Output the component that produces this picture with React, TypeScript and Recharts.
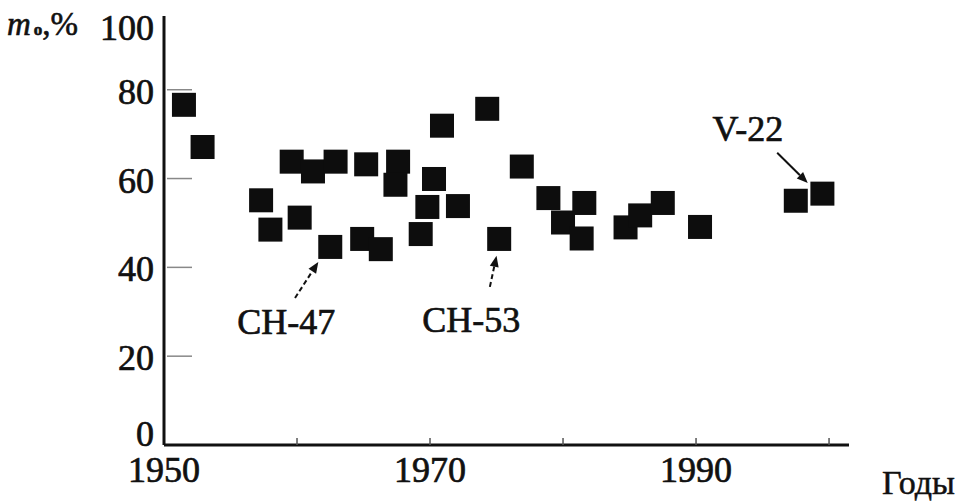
import { ReferenceDot, ReferenceLine, Scatter, ScatterChart, XAxis, YAxis } from "recharts";

const years = [
  1951.5, 1952.9, 1957.3, 1958.0, 1959.6, 1960.2, 1961.2, 1962.9, 1962.5, 1964.9, 1965.2,
  1966.3, 1967.6, 1967.4, 1969.3, 1969.8, 1970.3, 1970.9, 1972.1, 1974.3, 1975.2, 1976.9,
  1978.9, 1980.0, 1981.6, 1981.4, 1984.7, 1985.8, 1987.5, 1990.3, 1997.5, 1999.5,
];
const massShare = [
  76.6, 67.1, 55.1, 48.5, 63.8, 51.2, 61.6, 63.8, 44.6, 46.4, 63.2,
  44.1, 63.8, 58.6, 47.5, 53.6, 59.9, 71.9, 53.8, 75.7, 46.4, 62.7,
  55.6, 50.1, 54.5, 46.5, 49.0, 51.7, 54.5, 49.1, 55.0, 56.6,
];
const xTicks = [1950, 1960, 1970, 1980, 1990, 2000];
const xLabels = [1950, 1970, 1990];
const yTicks = [0, 20, 40, 60, 80, 100];

// callouts: label position, arrow start and arrow tip (data coords)
const callouts = [
  { name: "CH-47", at: [1959.2, 27.7], from: [1959.85, 33.1], to: [1961.6, 41.2], dashed: true },
  { name: "CH-53", at: [1973.1, 28.2], from: [1974.5, 35.6], to: [1975.0, 42.6], dashed: true },
  { name: "V-22", at: [1993.9, 71.2], from: [1996.1, 65.8], to: [1998.4, 59.0], dashed: false },
];

const data = years.map((year, i) => ({ year, value: massShare[i] }));
const font = "'Liberation Serif', 'Times New Roman', serif";
const ink = "#111";
const textStyle = { fontFamily: font, fontSize: 36, fill: ink, stroke: ink, strokeWidth: 0.7 };

function SquareMark(props: any) {
  const s = 24;
  return <rect x={props.cx - s / 2} y={props.cy - s / 2} width={s} height={s} fill="#0d0d0d" />;
}

function YTick(props: any) {
  const { x, y, payload } = props;
  const v = payload.value;
  const dy = v === 100 ? 27 : v === 0 ? -11 : 2;
  return (
    <g>
      {v > 0 && v < 100 && <line x1={x + 13} x2={x + 38} y1={y} y2={y} stroke="#888" strokeWidth={1.5} />}
      <text x={x} y={y + dy} textAnchor="end" dominantBaseline="central" {...textStyle}>
        {v}
      </text>
    </g>
  );
}

function XTick(props: any) {
  const { x, y, payload } = props;
  const v = payload.value;
  return (
    <g>
      {v > 1950 && <line x1={x} x2={x} y1={y - 7} y2={y} stroke="#555" strokeWidth={1.5} />}
      {xLabels.includes(v) && (
        <text x={x} y={y + 25} textAnchor="middle" dominantBaseline="central" {...textStyle}>
          {v}
        </text>
      )}
    </g>
  );
}

function Arrow(props: any) {
  const { x1, y1, x2, y2, dashed } = props;
  const a = Math.atan2(y2 - y1, x2 - x1);
  const L = 11, W = 4.5;
  const bx = x2 - L * Math.cos(a), by = y2 - L * Math.sin(a);
  const px = -Math.sin(a) * W, py = Math.cos(a) * W;
  return (
    <g>
      <line x1={x1} y1={y1} x2={bx} y2={by} stroke={ink} strokeWidth={2} strokeDasharray={dashed ? "5 3" : undefined} />
      <polygon points={`${x2},${y2} ${bx + px},${by + py} ${bx - px},${by - py}`} fill={ink} />
    </g>
  );
}

export default function App() {
  return (
    <div style={{ position: "absolute", left: 0, top: 0, width: 962, height: 502, background: "#fff" }}>
      <ScatterChart width={962} height={502} margin={{ top: 16, right: 113, left: 0, bottom: 0 }}>
        <XAxis
          type="number"
          dataKey="year"
          domain={[1950, 2001.5]}
          ticks={xTicks}
          height={57}
          tickSize={0}
          tickMargin={0}
          tickLine={false}
          axisLine={{ stroke: ink, strokeWidth: 3 }}
          tick={<XTick />}
          interval={0}
        />
        <YAxis
          type="number"
          dataKey="value"
          domain={[0, 96.6]}
          ticks={yTicks}
          width={164}
          tickSize={0}
          tickMargin={10}
          tickLine={false}
          axisLine={{ stroke: ink, strokeWidth: 3 }}
          tick={<YTick />}
          interval={0}
          allowDataOverflow
        />
        <Scatter data={data} shape={<SquareMark />} isAnimationActive={false} />
        {callouts.map((c) => (
          <ReferenceLine
            key={c.name + "-arrow"}
            segment={[{ x: c.from[0], y: c.from[1] }, { x: c.to[0], y: c.to[1] }]}
            shape={(p: any) => <Arrow {...p} dashed={c.dashed} />}
          />
        ))}
        {callouts.map((c) => (
          <ReferenceDot
            key={c.name}
            x={c.at[0]}
            y={c.at[1]}
            r={0}
            shape={(p: any) => (
              <text x={p.cx} y={p.cy} textAnchor="middle" dominantBaseline="central" {...textStyle}>
                {c.name}
              </text>
            )}
          />
        ))}
      </ScatterChart>
      <div style={{ position: "absolute", left: 7, top: 6, fontFamily: font, fontSize: 33, color: ink, whiteSpace: "nowrap", WebkitTextStroke: "0.6px #111" }}>
        <i>m</i>
        <span style={{ fontSize: 17, fontWeight: 700, marginLeft: 3 }}>о</span>,%
      </div>
      <div style={{ position: "absolute", left: 882, top: 464, fontFamily: font, fontSize: 34, color: ink, WebkitTextStroke: "0.5px #111" }}>Годы</div>
    </div>
  );
}
